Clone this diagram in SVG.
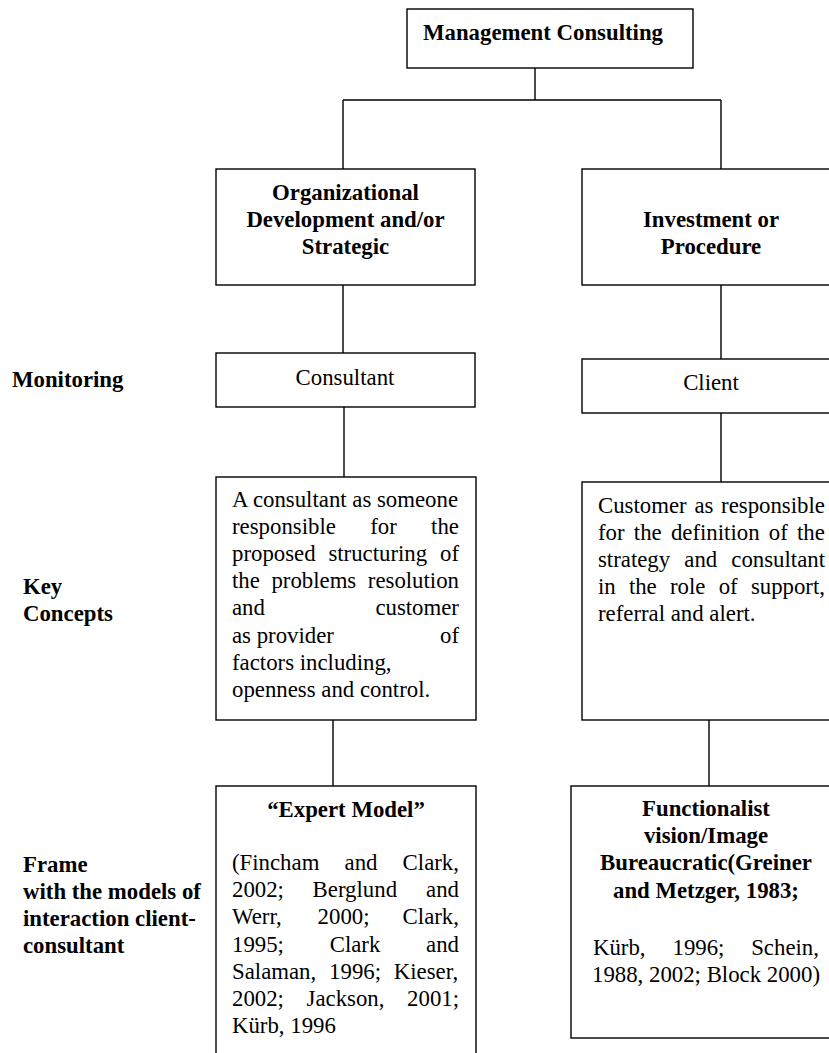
<svg xmlns="http://www.w3.org/2000/svg" width="829" height="1053" viewBox="0 0 829 1053">
<style>
  .box { fill: #ffffff; stroke: #000000; stroke-width: 1.4; }
  .conn { stroke: #000000; stroke-width: 1.4; fill: none; }
  text { font-family: "Liberation Serif", "Times New Roman", serif; font-size: 22.8px; fill: #000000; }
  .b { font-weight: bold; }
  .mid { text-anchor: middle; }
</style>
<rect width="829" height="1053" fill="#ffffff"/>

<g id="connectors">
  <path class="conn" d="M535,68 V100 M343,100 H721 M343,100 V169 M721,100 V169 M343,285 V353 M721,285 V359 M344,407 V477 M721,413 V482 M333,716 V786 M709,716 V786"/>
</g>

<g id="node-management">
  <rect class="box" x="407" y="9" width="286" height="59"/>
  <text class="b mid" x="543" y="40">Management Consulting</text>
</g>

<g id="node-organizational">
  <rect class="box" x="216" y="169" width="259" height="116"/>
  <text class="b mid" x="345.5" y="200">Organizational</text>
  <text class="b mid" x="345.5" y="227">Development and/or</text>
  <text class="b mid" x="345.5" y="254">Strategic</text>
</g>

<g id="node-investment">
  <rect class="box" x="582" y="169" width="260" height="116"/>
  <text class="b mid" x="711" y="227">Investment or</text>
  <text class="b mid" x="711" y="254">Procedure</text>
</g>

<g id="label-monitoring">
  <text class="b" x="12" y="387">Monitoring</text>
</g>

<g id="node-consultant">
  <rect class="box" x="216" y="353" width="259" height="54"/>
  <text class="mid" x="345" y="385">Consultant</text>
</g>

<g id="node-client">
  <rect class="box" x="582" y="359" width="260" height="54"/>
  <text class="mid" x="711" y="390">Client</text>
</g>

<g id="label-key-concepts">
  <text class="b" x="23" y="594">Key</text>
  <text class="b" x="23" y="621">Concepts</text>
</g>

<g id="node-key-left">
  <rect class="box" x="216" y="477" width="260" height="243"/>
  <text x="232" y="507">A consultant as someone</text>
  <text y="534.1"><tspan x="232">responsible</tspan><tspan x="370.2">for</tspan><tspan x="431.1">the</tspan></text>
  <text y="561.2"><tspan x="232">proposed</tspan><tspan x="328.4">structuring</tspan><tspan x="440">of</tspan></text>
  <text y="588.3"><tspan x="232">the</tspan><tspan x="271.4">problems</tspan><tspan x="367.8">resolution</tspan></text>
  <text y="615.4"><tspan x="232">and</tspan><tspan x="375.4">customer</tspan></text>
  <text y="642.5"><tspan x="232">as provider</tspan><tspan x="440">of</tspan></text>
  <text x="232" y="669.6">factors including,</text>
  <text x="232" y="696.7">openness and control.</text>
</g>

<g id="node-key-right">
  <rect class="box" x="582" y="482" width="260" height="238"/>
  <text y="513"><tspan x="598">Customer</tspan><tspan x="694.4">as</tspan><tspan x="721.1">responsible</tspan></text>
  <text y="540"><tspan x="598">for</tspan><tspan x="633.8">the</tspan><tspan x="670.9">definition</tspan><tspan x="768.8">of</tspan><tspan x="797">the</tspan></text>
  <text y="567"><tspan x="598">strategy</tspan><tspan x="684.3">and</tspan><tspan x="731.3">consultant</tspan></text>
  <text y="594"><tspan x="598">in</tspan><tspan x="628.9">the</tspan><tspan x="670">role</tspan><tspan x="718.7">of</tspan><tspan x="750.9">support,</tspan></text>
  <text x="598" y="621">referral and alert.</text>
</g>

<g id="label-frame">
  <text class="b" x="23" y="872">Frame</text>
  <text class="b" x="23" y="899">with the models of</text>
  <text class="b" x="23" y="926">interaction client-</text>
  <text class="b" x="23" y="953">consultant</text>
</g>

<g id="node-expert-model">
  <rect class="box" x="216" y="786" width="260" height="280"/>
  <text class="b mid" x="346" y="817">“Expert Model”</text>
  <text y="870"><tspan x="232">(Fincham</tspan><tspan x="344.6">and</tspan><tspan x="402.6">Clark,</tspan></text>
  <text y="897.2"><tspan x="232">2002;</tspan><tspan x="312.6">Berglund</tspan><tspan x="426.1">and</tspan></text>
  <text y="924.4"><tspan x="232">Werr,</tspan><tspan x="317.6">2000;</tspan><tspan x="402.6">Clark,</tspan></text>
  <text y="951.6"><tspan x="232">1995;</tspan><tspan x="329.7">Clark</tspan><tspan x="426.1">and</tspan></text>
  <text y="978.8"><tspan x="232">Salaman,</tspan><tspan x="329.1">1996;</tspan><tspan x="393.8">Kieser,</tspan></text>
  <text y="1006"><tspan x="232">2002;</tspan><tspan x="306.6">Jackson,</tspan><tspan x="407.1">2001;</tspan></text>
  <text x="232" y="1033.2">Kürb, 1996</text>
</g>

<g id="node-functionalist">
  <rect class="box" x="571" y="786" width="271" height="252"/>
  <text class="b mid" x="706" y="816">Functionalist</text>
  <text class="b mid" x="706" y="843">vision/Image</text>
  <text class="b mid" x="706" y="870">Bureaucratic(Greiner</text>
  <text class="b mid" x="706" y="898">and Metzger, 1983;</text>
  <text y="955"><tspan x="593">Kürb,</tspan><tspan x="672.5">1996;</tspan><tspan x="751.2">Schein,</tspan></text>
  <text class="mid" x="706" y="982">1988, 2002; Block 2000)</text>
</g>
</svg>
